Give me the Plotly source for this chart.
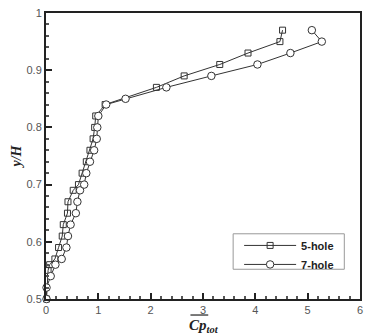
import plotly.graph_objects as go

y_5hole = [0.50, 0.55, 0.56, 0.57, 0.59, 0.61, 0.63, 0.65, 0.67, 0.69, 0.70, 0.72, 0.74,
           0.76, 0.78, 0.80, 0.82, 0.84, 0.87, 0.89, 0.91, 0.93, 0.95, 0.97]
cp_5hole = [0.01, 0.04, 0.07, 0.17, 0.24, 0.31, 0.33, 0.41, 0.42, 0.52, 0.62, 0.69, 0.77,
            0.84, 0.90, 0.93, 0.95, 1.13, 2.11, 2.64, 3.32, 3.86, 4.47, 4.52]

y_7hole = [0.50, 0.52, 0.54, 0.56, 0.57, 0.59, 0.61, 0.63, 0.65, 0.67, 0.69, 0.70, 0.72,
           0.74, 0.76, 0.78, 0.80, 0.82, 0.84, 0.85, 0.87, 0.89, 0.91, 0.93, 0.95, 0.97]
cp_7hole = [0.01, 0.01, 0.09, 0.18, 0.30, 0.39, 0.42, 0.47, 0.57, 0.60, 0.65, 0.73, 0.77,
            0.84, 0.92, 0.97, 0.98, 1.00, 1.15, 1.52, 2.30, 3.16, 4.04, 4.67, 5.27, 5.08]

x_ticks = [0, 1, 2, 3, 4, 5, 6]
y_ticks = [0.5, 0.6, 0.7, 0.8, 0.9, 1.0]
y_tick_labels = ["0.5", "0.6", "0.7", "0.8", "0.9", "1"]

line_col = "#333333"
fig = go.Figure()
fig.add_trace(go.Scatter(
    x=cp_5hole, y=y_5hole, mode="lines+markers", name="<b>5-hole</b>",
    line=dict(color=line_col, width=1),
    marker=dict(symbol="square-open", size=6, color=line_col, line=dict(width=1)),
    cliponaxis=False))
fig.add_trace(go.Scatter(
    x=cp_7hole, y=y_7hole, mode="lines+markers", name="<b>7-hole</b>",
    line=dict(color=line_col, width=1),
    marker=dict(symbol="circle", size=7.5, color="white", line=dict(width=1, color=line_col)),
    cliponaxis=False))

axis_common = dict(
    showgrid=False, zeroline=False, showline=True, linecolor="#222222", linewidth=2,
    mirror=True, ticks="inside", ticklen=6, tickwidth=2, tickcolor="#222222",
    tickfont=dict(family="Liberation Sans, Arial", size=11, color="#555555"),
)

fig.update_layout(
    width=370, height=335,
    margin=dict(l=46, r=7, t=10, b=36),
    paper_bgcolor="white", plot_bgcolor="white",
    showlegend=True,
    legend=dict(
        x=0.615, y=0.238, xanchor="left", yanchor="top",
        borderwidth=0, bgcolor="rgba(0,0,0,0)",
        font=dict(family="Liberation Sans, Arial", size=11, color="#222222"),
        itemwidth=52, tracegroupgap=0,
    ),
    xaxis=dict(range=[0, 6], tickvals=x_ticks, ticktext=[str(v) for v in x_ticks],
               minor=dict(ticks="inside", ticklen=3, tickcolor="#555555", dtick=0.2, tick0=0),
               **axis_common),
    yaxis=dict(range=[0.5, 1.0], tickvals=y_ticks, ticktext=y_tick_labels,
               minor=dict(ticks="inside", ticklen=3, tickcolor="#555555", dtick=0.02, tick0=0.5),
               title=dict(text="<b><i>y/H</i></b>", standoff=2,
                          font=dict(family="Liberation Serif, Times New Roman", size=14, color="#222222")),
               **axis_common),
)

# legend frame
fig.add_shape(type="rect", xref="paper", yref="paper", x0=0.596, x1=0.950, y0=0.104, y1=0.228,
              line=dict(color="#999999", width=1), fillcolor="rgba(0,0,0,0)")

fig.add_annotation(
    x=3.01, y=-0.058, xref="x", yref="paper", xanchor="center", yanchor="top",
    text="<b><i>Cp<sub>tot</sub></i></b>", showarrow=False, borderpad=0,
    font=dict(family="Liberation Serif, Times New Roman", size=15, color="#222222"))
fig.add_shape(type="line", xref="x", yref="paper", x0=2.76, x1=3.10, y0=-0.056, y1=-0.056,
              line=dict(color="#222222", width=1.2))

fig.write_html("out.html")
